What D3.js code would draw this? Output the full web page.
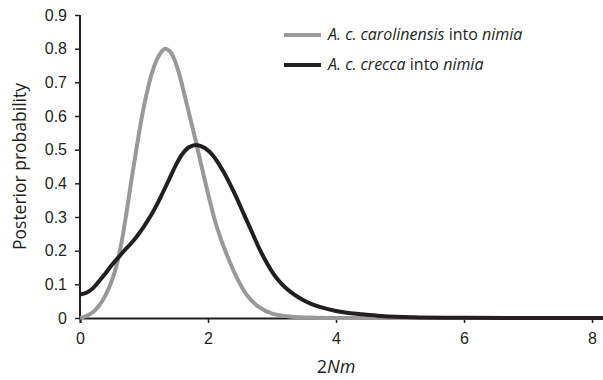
<!DOCTYPE html>
<html>
<head>
<meta charset="utf-8">
<script src="https://cdn.jsdelivr.net/npm/d3@7"></script>
<style>
  body { margin: 0; background: #fff; }
  svg { display: block; font-family: "Open Sans", Lato, sans-serif; }
</style>
</head>
<body>
<div id="chart"></div>
<script>
// values
var xTicks = [0, 2, 4, 6, 8];
var yTicks = [0, 0.1, 0.2, 0.3, 0.4, 0.5, 0.6, 0.7, 0.8, 0.9];

var carolinensisX = [0, 0.1, 0.2, 0.3, 0.4, 0.5, 0.57, 0.64, 0.72, 0.80, 0.88, 0.96, 1.04, 1.12, 1.20, 1.27, 1.33, 1.40, 1.47, 1.55, 1.63, 1.72, 1.81, 1.90, 2.0, 2.1, 2.2, 2.3, 2.45, 2.6, 2.8, 3.0, 3.3, 3.7, 4.2, 5.0, 6.0, 7.0, 8.2];
var carolinensisY = [0, 0.006, 0.017, 0.037, 0.068, 0.112, 0.155, 0.215, 0.305, 0.405, 0.5, 0.59, 0.665, 0.725, 0.767, 0.79, 0.8, 0.793, 0.77, 0.725, 0.665, 0.595, 0.525, 0.45, 0.37, 0.295, 0.235, 0.185, 0.12, 0.07, 0.032, 0.013, 0.004, 0.001, 0, 0, 0, 0, 0];

var creccaX = [0, 0.1, 0.2, 0.3, 0.4, 0.5, 0.6, 0.7, 0.8, 0.9, 1.0, 1.1, 1.2, 1.3, 1.4, 1.5, 1.6, 1.7, 1.82, 1.95, 2.08, 2.24, 2.40, 2.55, 2.67, 2.80, 2.9, 3.0, 3.1, 3.2, 3.3, 3.4, 3.5, 3.6, 3.8, 4.0, 4.2, 4.4, 4.7, 5.2, 6.0, 7.0, 8.2];
var creccaY = [0.07, 0.075, 0.088, 0.11, 0.133, 0.158, 0.18, 0.202, 0.222, 0.245, 0.272, 0.302, 0.336, 0.375, 0.415, 0.455, 0.487, 0.507, 0.514, 0.505, 0.482, 0.435, 0.376, 0.313, 0.262, 0.207, 0.17, 0.138, 0.112, 0.092, 0.076, 0.063, 0.052, 0.043, 0.03, 0.021, 0.015, 0.011, 0.006, 0.002, 0.0005, 0, 0];

var seriesColors = ["#999999", "#231f20"];

var width = 603;
var height = 380;
var margin = { left: 80, top: 15, bottom: 62 };

var svg = d3.select("#chart").append("svg")
    .attr("width", width)
    .attr("height", height);

var x = d3.scaleLinear().domain([0, 8.2]).range([margin.left, margin.left + 8.2 * 64]);
var y = d3.scaleLinear().domain([0, 0.9]).range([318, margin.top]);

var line = d3.line()
    .x(function (d) { return x(d[0]); })
    .y(function (d) { return y(d[1]); })
    .curve(d3.curveCatmullRom.alpha(0.5));

var series = [
    d3.zip(carolinensisX, carolinensisY),
    d3.zip(creccaX, creccaY)
];

// axes
var yAxis = svg.append("g")
    .attr("transform", "translate(" + margin.left + ",0)")
    .call(d3.axisLeft(y).tickValues(yTicks).tickSize(5).tickPadding(8)
        .tickFormat(function (d) { return d === 0 ? "0" : d3.format(".1f")(d); }));

var xAxis = svg.append("g")
    .attr("transform", "translate(0," + y(0) + ")")
    .call(d3.axisBottom(x).tickValues(xTicks).tickSize(5).tickPadding(10).tickFormat(d3.format("d")));

[yAxis, xAxis].forEach(function (g) {
    g.select(".domain").attr("stroke", "#231f20").attr("stroke-width", 2);
    g.selectAll(".tick line").attr("stroke", "#231f20").attr("stroke-width", 1.5);
    g.selectAll(".tick text").attr("fill", "#231f20").attr("font-size", 16).attr("font-family", null);
});
yAxis.select(".domain").attr("d", "M0," + y(0) + "V" + y(0.9));

// curves
svg.selectAll(".curve").data(series).enter()
    .append("path")
    .attr("class", "curve")
    .attr("fill", "none")
    .attr("stroke", function (d, i) { return seriesColors[i]; })
    .attr("stroke-width", 4)
    .attr("stroke-linejoin", "round")
    .attr("d", line);

// axis titles
svg.append("text")
    .attr("transform", "translate(26," + y(0.45) + ") rotate(-90)")
    .attr("text-anchor", "middle")
    .attr("font-size", 17.5)
    .attr("fill", "#231f20")
    .text("Posterior probability");

var xTitle = svg.append("text")
    .attr("x", x(4))
    .attr("y", 373)
    .attr("text-anchor", "middle")
    .attr("font-size", 18)
    .attr("fill", "#231f20");
xTitle.append("tspan").text("2");
xTitle.append("tspan").attr("font-style", "italic").text("Nm");

// legend
var legendRows = [
    [{ t: "A. c. carolinensis", i: true }, { t: " into ", i: false }, { t: "nimia", i: true }],
    [{ t: "A. c. crecca", i: true }, { t: " into ", i: false }, { t: "nimia", i: true }]
];

var legend = svg.append("g");
legendRows.forEach(function (row, k) {
    var ly = 35 + k * 30;
    legend.append("line")
        .attr("x1", 284).attr("x2", 321)
        .attr("y1", ly).attr("y2", ly)
        .attr("stroke", seriesColors[k])
        .attr("stroke-width", 4);
    var t = legend.append("text")
        .attr("x", 328)
        .attr("y", ly + 5)
        .attr("font-size", 16)
        .attr("fill", "#231f20");
    row.forEach(function (p) {
        t.append("tspan")
            .attr("font-style", p.i ? "italic" : "normal")
            .attr("xml:space", "preserve")
            .text(p.t);
    });
});
</script>
</body>
</html>
